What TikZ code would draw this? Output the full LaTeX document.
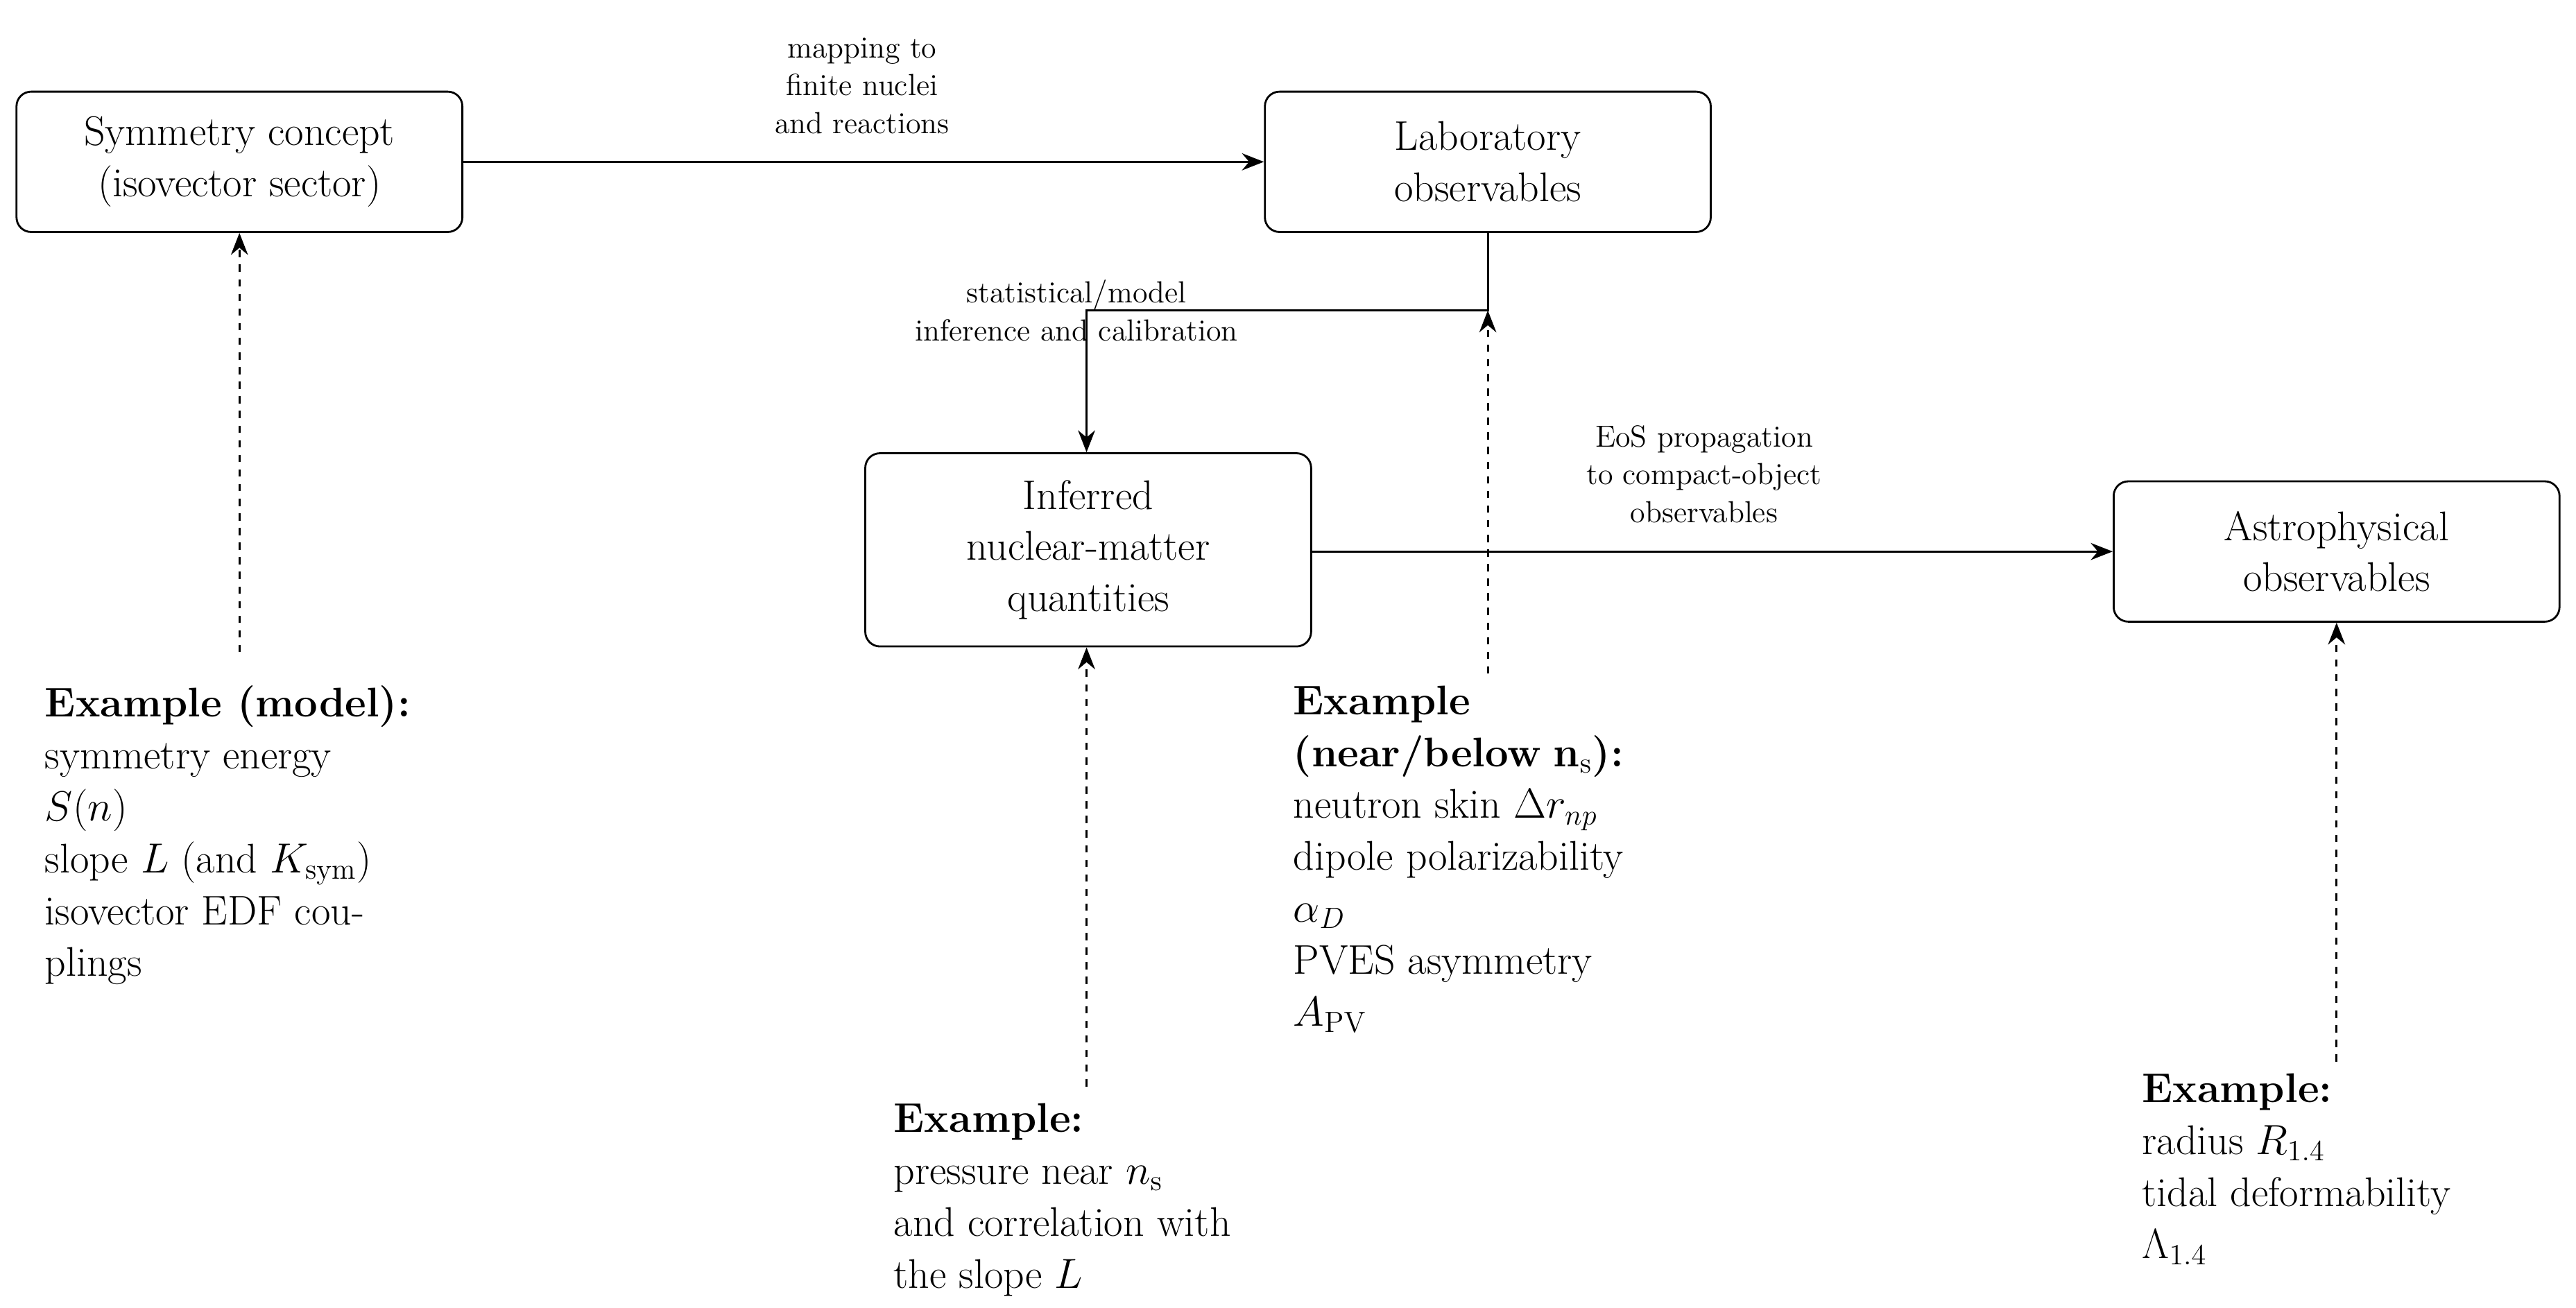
\documentclass[tikz,border=0pt]{standalone}
\usetikzlibrary{arrows.meta}
\begin{document}
\begin{tikzpicture}[x=0.02381cm,y=-0.02381cm,
 box/.style={draw,rounded corners=6pt,thick,minimum width=270*0.02381cm,align=center,font=\fontsize{17}{21}\selectfont},
 lab/.style={align=center,font=\fontsize{12.5}{15.5}\selectfont},
 ex/.style={align=left,anchor=north west,inner sep=0pt,font=\fontsize{17}{21.3}\selectfont},
 arr/.style={thick,-{Stealth[length=9pt,width=7pt]}},
 darr/.style={arr,dashed}]
\useasboundingbox (0,0) rectangle (1560,792);
\node[box,minimum height=85*0.02381cm] (sym) at (145,98) {Symmetry concept\\(isovector sector)};
\node[box,minimum height=85*0.02381cm] (lab) at (901,98) {Laboratory\\observables};
\node[box,minimum height=117*0.02381cm] (inf) at (659,333) {Inferred\\nuclear-matter\\quantities};
\node[box,minimum height=85*0.02381cm] (ast) at (1415,334) {Astrophysical\\observables};
\draw[arr] (sym) -- (lab);
\node[lab] (l1) at (522,52) {mapping to\\finite nuclei\\and reactions};
\coordinate (c1) at (901,188); \coordinate (c2) at (658,188);
\draw[arr] (lab.south) -- (c1) -- (c2) -- (inf.north-|c2);
\node[lab] (l2) at (652,188) {statistical/model\\inference and calibration};
\draw[arr] (inf.east|-ast) -- (ast);
\node[lab] (l3) at (1032,287) {EoS propagation\\to compact-object\\observables};
\node[ex] (e1) at (27,415) {\textbf{Example (model):}\\symmetry energy\\$S(n)$\\slope $L$ (and $K_{\mathrm{sym}}$)\\isovector EDF cou-\\plings};
\node[ex] (e2) at (783,415) {\textbf{Example}\\\textbf{(near/below} $\mathbf{n}_{\mathrm{s}}$\textbf{):}\\neutron skin $\Delta r_{np}$\\dipole polarizability\\$\alpha_D$\\PVES asymmetry\\$A_{\mathrm{PV}}$};
\node[ex] (e3) at (541,668) {\textbf{Example:}\\pressure near $n_{\mathrm{s}}$\\and correlation with\\the slope $L$};
\node[ex] (e4) at (1297,650) {\textbf{Example:}\\radius $R_{1.4}$\\tidal deformability\\$\Lambda_{1.4}$};
\coordinate (d1) at (145,395); \coordinate (d2) at (658,658);
\coordinate (d3) at (901,408); \coordinate (d4) at (1415,643);
\draw[darr] (d1) -- (sym);
\draw[darr] (d2) -- (d2|-inf.south);
\draw[darr] (d3) -- (c1);
\draw[darr] (d4) -- (ast);
\end{tikzpicture}
\end{document}
